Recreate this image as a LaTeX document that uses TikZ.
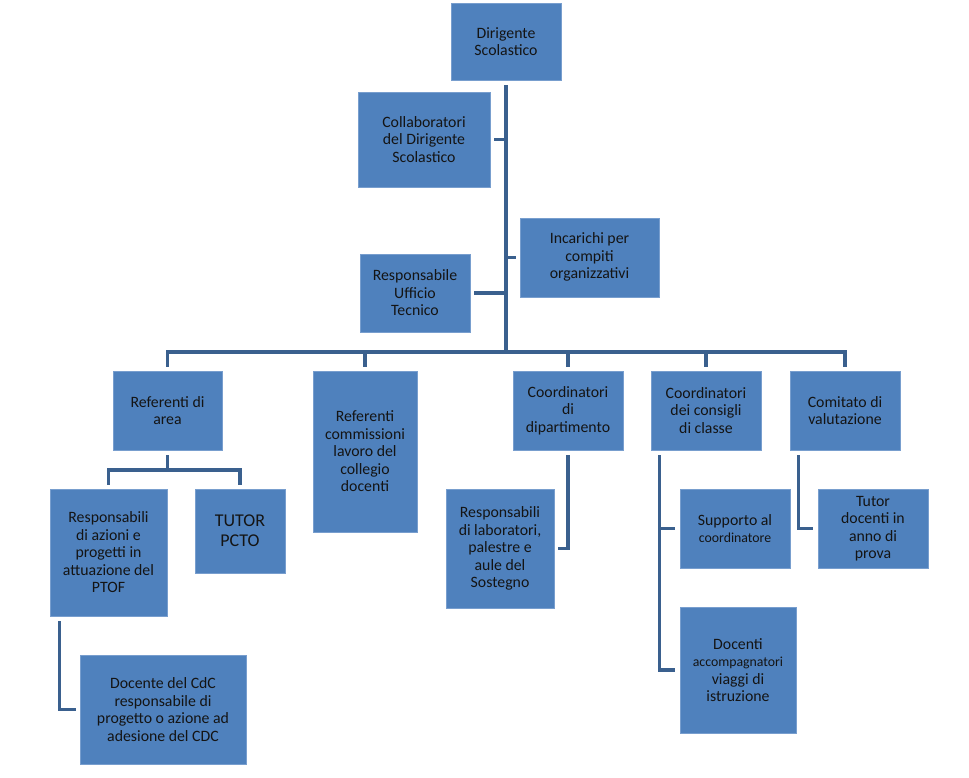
\documentclass[tikz,border=0pt]{standalone}
\usepackage{fontspec}
\setmainfont{Carlito}
\usepackage{xcolor}
\usepackage{tikz}
\definecolor{boxblue}{RGB}{79,129,189}
\definecolor{boxedge}{RGB}{120,158,206}
\definecolor{lineblue}{RGB}{58,96,142}
\definecolor{inktext}{RGB}{20,20,20}

\begin{document}
\begin{tikzpicture}[x=1pt,y=-1pt,
    box/.style={draw=boxedge,line width=0.8pt,fill=boxblue,inner sep=0pt,align=center,
      text=inktext,font=\fontsize{15.8}{17.5}\selectfont},
    link/.style={draw=lineblue,line width=3.6pt,line join=miter}]
        \useasboundingbox (0,0) rectangle (969,778);
        % top of the chart
        \node[box,minimum width=110,minimum height=77] (dir) at (506,41.5) {Dirigente\\Scolastico};
        \node[box,minimum width=132,minimum height=95] (collab) at (424,139.5) {Collaboratori\\del Dirigente\\Scolastico};
        \node[box,minimum width=139,minimum height=79] (incarichi) at (589.5,257.5) {Incarichi per\\compiti\\organizzativi\\[-14pt]\mbox{}};
        \node[box,minimum width=110,minimum height=78] (ufftec) at (415,293) {Responsabile\\Ufficio\\Tecnico};
        % second row
        \node[box,minimum width=109,minimum height=79] (refarea) at (167.5,410.5) {Referenti di\\area};
        \node[box,minimum width=104,minimum height=161] (refcomm) at (365,451.5) {Referenti\\commissioni\\lavoro del\\collegio\\docenti};
        \node[box,minimum width=110,minimum height=79] (coorddip) at (568,410.5) {Coordinatori\\di\\dipartimento};
        \node[box,minimum width=110,minimum height=79] (coordcons) at (706,410.5) {Coordinatori\\dei consigli\\di classe};
        \node[box,minimum width=110,minimum height=79] (comitato) at (845,410.5) {Comitato di\\valutazione};
        % third row
        \node[box,minimum width=117,minimum height=127] (respaz) at (108.5,552.5) {Responsabili\\di azioni e\\progetti in\\attuazione del\\PTOF};
        \node[box,minimum width=90,minimum height=84,font=\fontsize{18}{20}\selectfont] (pcto) at (240,531) {TUTOR\\PCTO};
        \node[box,minimum width=108,minimum height=119] (resplab) at (500,548.5) {Responsabili\\di laboratori,\\palestre e\\aule del\\Sostegno};
        \node[box,minimum width=110,minimum height=79] (supporto) at (735,528.5) {Supporto al\\{\fontsize{13.8}{16}\selectfont coordinatore}};
        \node[box,minimum width=110,minimum height=79] (tutordoc) at (873,528.5) {Tutor\\docenti in\\anno di\\prova};
        \node[box,minimum width=116,minimum height=126] (accomp) at (738,670) {Docenti\\{\fontsize{13.8}{17}\selectfont accompagnatori}\\viaggi di\\istruzione};
        \node[box,minimum width=166,minimum height=109] (cdc) at (163,709.5) {Docente del CdC\\responsabile di\\progetto o azione ad\\adesione del CDC};
        % connectors
        \coordinate (bus) at (506,352);
        \coordinate (areabus) at (168,470);
        \draw[link] ([yshift=-5pt]dir.south) -- (bus);
        \draw[link] ([xshift=4pt]collab.east) -- (collab.east -| dir.south);
        \draw[link] (incarichi.west -| dir.south) -- ([xshift=-4pt]incarichi.west);
        \draw[link] ([xshift=4pt]ufftec.east) -- (ufftec.east -| dir.south);
        \draw[link] ([yshift=4pt]refarea.north) |- (bus) -| ([yshift=4pt]comitato.north);
        \draw[link] ([yshift=4pt]refcomm.north) -- (refcomm.north |- bus);
        \draw[link] ([yshift=4pt]coorddip.north) -- (coorddip.north |- bus);
        \draw[link] ([yshift=4pt]coordcons.north) -- (coordcons.north |- bus);
        \draw[link] ([yshift=-5pt]refarea.south) -- (refarea.south |- areabus);
        \draw[link] ([yshift=4pt]respaz.north) |- (areabus) -| ([yshift=4pt]pcto.north);
        \draw[link] ([xshift=10pt,yshift=-5pt]respaz.south west) |- ([xshift=-4pt]cdc.west);
        \draw[link] ([yshift=-5pt]coorddip.south) |- ([xshift=4pt]resplab.east);
        \coordinate (ccline) at ([xshift=9pt]coordcons.south west);
        \draw[link] ([yshift=-5pt]ccline) |- ([xshift=-5pt]accomp.west);
        \draw[link] (supporto.west -| ccline) -- ([xshift=-5pt]supporto.west);
        \draw[link] ([xshift=9pt,yshift=-5pt]comitato.south west) |- ([xshift=-5pt]tutordoc.west);
    \end{tikzpicture}
\end{document}
